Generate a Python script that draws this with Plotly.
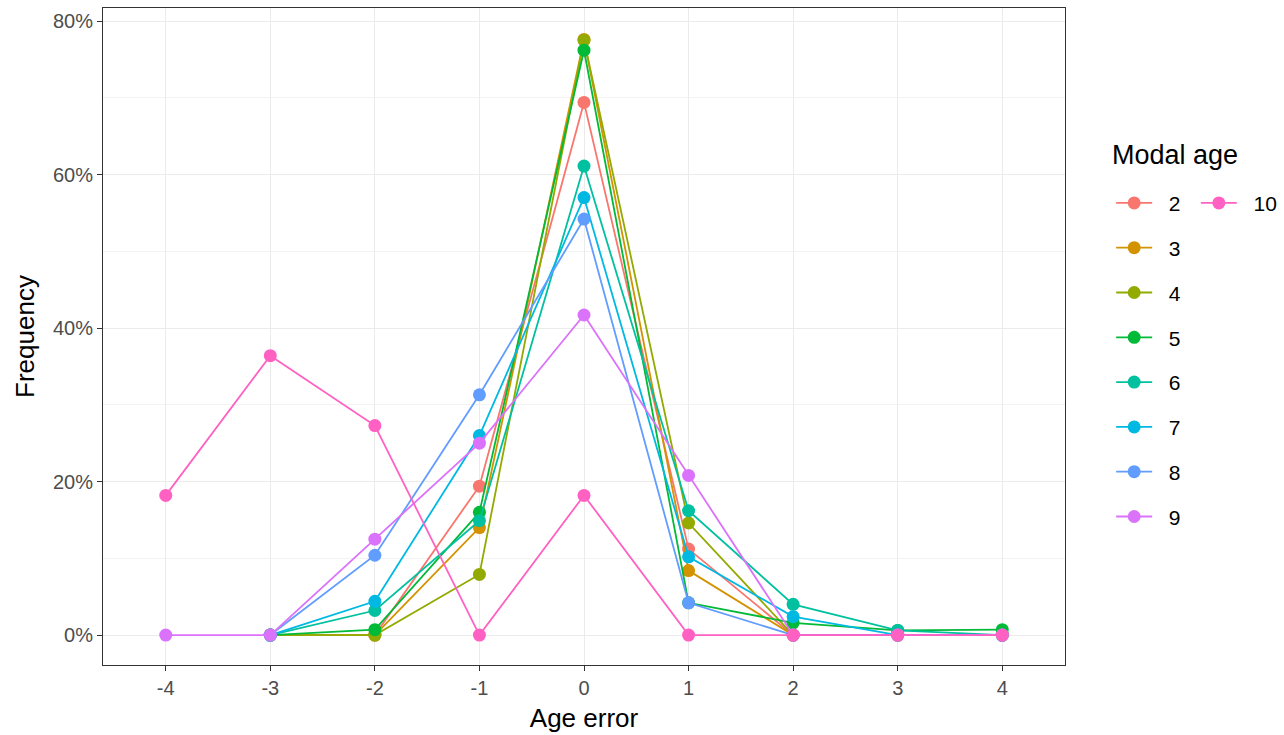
import plotly.graph_objects as go

# Age error categories (x) and frequencies per modal age
x_2 = [-3, -2, -1, 0, 1, 2, 3, 4]
y_2 = [0.0, 0.0, 0.194, 0.694, 0.112, 0.0, 0.0, 0.0]
x_3 = [-3, -2, -1, 0, 1, 2, 3, 4]
y_3 = [0.0, 0.0, 0.140, 0.776, 0.084, 0.0, 0.0, 0.0]
x_4 = [-3, -2, -1, 0, 1, 2, 3, 4]
y_4 = [0.0, 0.0, 0.079, 0.775, 0.146, 0.0, 0.0, 0.0]
x_5 = [-3, -2, -1, 0, 1, 2, 3, 4]
y_5 = [0.0, 0.007, 0.160, 0.762, 0.042, 0.016, 0.006, 0.007]
x_6 = [-3, -2, -1, 0, 1, 2, 3, 4]
y_6 = [0.0, 0.032, 0.149, 0.611, 0.162, 0.040, 0.006, 0.0]
x_7 = [-3, -2, -1, 0, 1, 2, 3, 4]
y_7 = [0.0, 0.044, 0.260, 0.570, 0.102, 0.024, 0.0, 0.0]
x_8 = [-3, -2, -1, 0, 1, 2, 3, 4]
y_8 = [0.0, 0.104, 0.313, 0.542, 0.042, 0.0, 0.0, 0.0]
x_9 = [-4, -3, -2, -1, 0, 1, 2, 3, 4]
y_9 = [0.0, 0.0, 0.125, 0.250, 0.417, 0.208, 0.0, 0.0, 0.0]
x_10 = [-4, -3, -2, -1, 0, 1, 2, 3, 4]
y_10 = [0.182, 0.364, 0.273, 0.0, 0.182, 0.0, 0.0, 0.0, 0.0]

modal_ages = ["2", "3", "4", "5", "6", "7", "8", "9", "10"]
series_x = [x_2, x_3, x_4, x_5, x_6, x_7, x_8, x_9, x_10]
series_y = [y_2, y_3, y_4, y_5, y_6, y_7, y_8, y_9, y_10]
colors = ["#F8766D", "#D39200", "#93AA00", "#00BA38", "#00C19F",
          "#00B9E3", "#619CFF", "#DB72FB", "#FF61C3"]

x_ticks = [-4, -3, -2, -1, 0, 1, 2, 3, 4]
y_ticks = [0, 0.2, 0.4, 0.6, 0.8]
y_tick_labels = ["0%", "20%", "40%", "60%", "80%"]

FONT = "Liberation Sans, Arial, sans-serif"
NB = "\u00a0\u00a0"

fig = go.Figure()
for name, xs, ys, c in zip(modal_ages, series_x, series_y, colors):
    fig.add_trace(go.Scatter(
        x=xs, y=ys, mode="lines+markers", name=NB + name,
        line=dict(color=c, width=1.8),
        marker=dict(color=c, size=13),
        legendgroup=name,
        legend="legend2" if name == "10" else "legend",
    ))

fig.add_annotation(
    text="Modal age", xref="paper", yref="paper",
    x=1.047, y=0.776, xanchor="left", yanchor="middle",
    showarrow=False, font=dict(size=27, family=FONT, color="#000000"),
)

fig.update_layout(
    width=1284, height=735,
    margin=dict(l=103, r=219, t=8, b=70, autoexpand=False),
    paper_bgcolor="white", plot_bgcolor="white",
    font=dict(family=FONT, color="#000000"),
    xaxis=dict(
        range=[-4.6, 4.6], tickmode="array", tickvals=x_ticks,
        ticktext=[str(v) for v in x_ticks],
        showgrid=True, gridcolor="#EBEBEB", gridwidth=1.2,
        zeroline=False, showline=True, linecolor="#333333", linewidth=1, mirror=True,
        ticks="outside", ticklen=5, tickcolor="#333333",
        tickfont=dict(size=20, color="#4D4D4D", family=FONT),
        title=dict(text="Age error", font=dict(size=26, family=FONT), standoff=10),
    ),
    yaxis=dict(
        range=[-0.039, 0.817], tickmode="array", tickvals=y_ticks,
        ticktext=y_tick_labels,
        showgrid=True, gridcolor="#EBEBEB", gridwidth=1.2,
        minor=dict(tickvals=[0.1, 0.3, 0.5, 0.7], showgrid=True,
                   gridcolor="#F3F3F3", gridwidth=0.8, ticks=""),
        zeroline=False, showline=True, linecolor="#333333", linewidth=1, mirror=True,
        ticks="outside", ticklen=5, tickcolor="#333333",
        tickfont=dict(size=20, color="#4D4D4D", family=FONT),
        title=dict(text="Frequency", font=dict(size=26, family=FONT), standoff=10),
    ),
    legend=dict(
        x=1.048, y=0.734, xanchor="left", yanchor="top",
        font=dict(size=21, family=FONT),
        traceorder="grouped", tracegroupgap=14.5, itemwidth=36,
        bgcolor="rgba(0,0,0,0)",
    ),
    legend2=dict(
        x=1.136, y=0.734, xanchor="left", yanchor="top",
        font=dict(size=21, family=FONT), itemwidth=36,
        bgcolor="rgba(0,0,0,0)",
    ),
)

fig.write_html("out.html")
